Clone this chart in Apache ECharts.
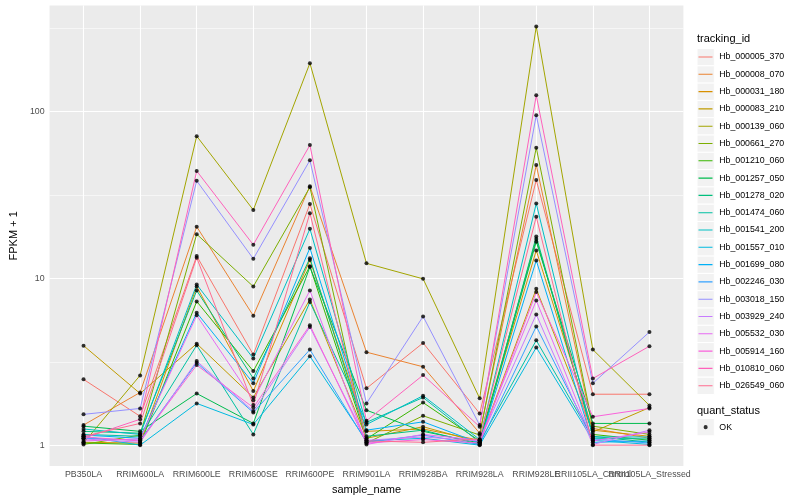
<!DOCTYPE html>
<html><head><meta charset="utf-8">
<script src="https://cdn.jsdelivr.net/npm/echarts@6.0.0/dist/echarts.min.js"></script>
<style>html,body{margin:0;padding:0;background:#fff}#c{width:800px;height:500px}</style>
</head><body><div id="c"></div>
<script>
const categories = ['PB350LA','RRIM600LA','RRIM600LE','RRIM600SE','RRIM600PE','RRIM901LA','RRIM928BA','RRIM928LA','RRIM928LE','RRII105LA_Control','RRII105LA_Stressed'];
const trackingIds = ['Hb_000005_370','Hb_000008_070','Hb_000031_180','Hb_000083_210','Hb_000139_060','Hb_000661_270','Hb_001210_060','Hb_001257_050','Hb_001278_020','Hb_001474_060','Hb_001541_200','Hb_001557_010','Hb_001699_080','Hb_002246_030','Hb_003018_150','Hb_003929_240','Hb_005532_030','Hb_005914_160','Hb_010810_060','Hb_026549_060'];
const yTicks = [1, 10, 100];
const yMinorBreaks = [3.162, 31.62, 316.2];
const quantStatus = ['OK'];

// FPKM + 1 per tracking_id, in category order
const hb_000005_370 = [2.48, 1.49, 13.6, 3.49, 27.9, 2.19, 4.10, 1.55, 38.9, 2.02, 2.02];
const hb_000008_070 = [1.32, 2.07, 20.4, 5.97, 35.7, 3.61, 2.95, 1.18, 47.8, 1.26, 1.10];
const hb_000031_180 = [1.04, 1.03, 8.93, 2.11, 12.9, 1.21, 1.25, 1.07, 14.7, 1.23, 1.13];
const hb_000083_210 = [3.95, 2.04, 4.06, 1.93, 7.47, 1.10, 1.29, 1.04, 8.65, 1.20, 1.68];
const hb_000139_060 = [1.03, 2.62, 71.2, 25.7, 195, 12.3, 9.93, 1.91, 323, 3.74, 1.73];
const hb_000661_270 = [1.01, 1.15, 18.4, 8.93, 35.2, 1.03, 1.50, 1.15, 60.7, 1.30, 1.16];
const hb_001210_060 = [1.03, 1.01, 7.27, 2.78, 11.8, 1.09, 1.80, 1.06, 17.2, 1.16, 1.07];
const hb_001257_050 = [1.30, 1.21, 2.04, 1.35, 11.7, 1.62, 1.21, 1.03, 16.6, 1.35, 1.35];
const hb_001278_020 = [1.21, 1.18, 8.46, 2.51, 13.2, 1.13, 1.23, 1.01, 17.8, 1.13, 1.04];
const hb_001474_060 = [1.16, 1.13, 3.97, 1.16, 7.21, 1.37, 1.93, 1.04, 4.25, 1.10, 1.09];
const hb_001541_200 = [1.25, 1.16, 9.18, 3.31, 19.8, 1.33, 1.98, 1.08, 28.1, 1.12, 1.12];
const hb_001557_010 = [1.13, 1.00, 1.78, 1.33, 3.41, 1.06, 1.10, 1.00, 3.85, 1.07, 1.01];
const hb_001699_080 = [1.15, 1.10, 6.22, 2.35, 15.2, 1.23, 1.38, 1.03, 12.8, 1.04, 1.06];
const hb_002246_030 = [1.10, 1.07, 3.12, 1.57, 3.74, 1.04, 1.15, 1.01, 5.15, 1.09, 1.03];
const hb_003018_150 = [1.53, 1.66, 38.4, 13.1, 51.0, 1.78, 5.91, 1.32, 95.1, 2.35, 4.77];
const hb_003929_240 = [1.09, 1.04, 3.19, 1.60, 5.11, 1.07, 1.12, 1.06, 6.08, 1.01, 1.23];
const hb_005532_030 = [1.06, 1.09, 6.00, 1.86, 8.46, 1.01, 1.16, 1.07, 7.37, 1.06, 1.20];
const hb_005914_160 = [1.12, 1.06, 3.02, 1.68, 5.23, 1.03, 1.08, 1.03, 8.27, 1.48, 1.66];
const hb_010810_060 = [1.10, 1.43, 44.0, 15.9, 62.9, 1.40, 2.63, 1.29, 125, 2.51, 3.92];
const hb_026549_060 = [1.13, 1.35, 13.3, 1.74, 24.6, 1.06, 1.04, 1.09, 23.4, 1.00, 1.00];

const seriesValues = [hb_000005_370, hb_000008_070, hb_000031_180, hb_000083_210, hb_000139_060,
  hb_000661_270, hb_001210_060, hb_001257_050, hb_001278_020, hb_001474_060, hb_001541_200,
  hb_001557_010, hb_001699_080, hb_002246_030, hb_003018_150, hb_003929_240, hb_005532_030,
  hb_005914_160, hb_010810_060, hb_026549_060];

const palette = ['#F8766D','#EA8331','#D89000','#C09B00','#A3A500','#7CAE00','#39B600','#00BB4E','#00BF7D','#00C1A3','#00BFC4','#00BAE0','#00B0F6','#35A2FF','#9590FF','#C77CFF','#E76BF3','#FA62DB','#FF62BC','#FF6C90'];

const FONT = 'Liberation Sans, Arial, Helvetica, sans-serif';
const L = Math.log10;

const lineSeries = trackingIds.map((id, k) => ({
  name: id, type: 'line', z: 2, symbol: 'none', color: palette[k],
  lineStyle: { width: 1, color: palette[k] },
  data: seriesValues[k].map((v, i) => [i, L(v)]),
  animation: false, silent: true
}));

const pointData = [];
seriesValues.forEach(arr => arr.forEach((v, i) => pointData.push([i, L(v)])));

const gridLines = [];
categories.forEach((c, i) => gridLines.push({ xAxis: i, lineStyle: { width: 1.1, color: '#ffffff', type: 'solid' } }));
yTicks.forEach(t => gridLines.push({ yAxis: L(t), lineStyle: { width: 1.1, color: '#ffffff', type: 'solid' } }));
yMinorBreaks.forEach(t => gridLines.push({ yAxis: L(t), lineStyle: { width: 0.55, color: '#ffffff', type: 'solid' } }));

const pointSeries = {
  name: quantStatus[0], type: 'scatter', z: 3, symbol: 'circle', symbolSize: 4,
  itemStyle: { color: '#000000' }, data: pointData, animation: false, silent: true,
  markLine: { z: 1, silent: true, symbol: ['none', 'none'], label: { show: false }, animation: false, data: gridLines }
};

const lineIcon = 'path://M0,0h0.01v0.01h-0.01z M1.5,7.95h14v1.1h-14z M16.99,16.99h0.01v0.01h-0.01z';
const dotIcon = 'path://M0,0h0.01v0.01h-0.01z M10.5,8.5a2,2 0 1,1 -4,0a2,2 0 1,1 4,0z M16.99,16.99h0.01v0.01h-0.01z';

const keyTop = 48.5, keyStep = 17.3, keyLeft = 697;
const graphics = [
  { type: 'text', left: keyLeft, top: 33, style: { text: 'tracking_id', font: '11px ' + FONT, fill: '#000' } },
  { type: 'text', left: keyLeft, top: 405, style: { text: 'quant_status', font: '11px ' + FONT, fill: '#000' } }
];
trackingIds.forEach((id, k) => graphics.push({ type: 'rect', z: -1,
  shape: { x: keyLeft, y: keyTop + k * keyStep, width: 17.3, height: 17.3 },
  style: { fill: '#F2F2F2', stroke: '#ffffff', lineWidth: 1 } }));
graphics.push({ type: 'rect', z: -1, shape: { x: keyLeft, y: 418.5, width: 17.3, height: 17.3 },
  style: { fill: '#F2F2F2', stroke: '#ffffff', lineWidth: 1 } });

// labels are split over two overlapping x axes so that the crowded pair both stay visible
const idx = categories.map((c, i) => i);
const labelsA = idx.filter(i => i % 2 === 0);
const labelsB = idx.filter(i => i % 2 === 1);
const xBase = {
  type: 'value', min: -0.6, max: categories.length - 1 + 0.6, position: 'bottom', offset: 0,
  axisLine: { show: false }, splitLine: { show: false },
  axisTick: { show: true, length: 3, lineStyle: { color: '#333333', width: 1 }, customValues: idx }
};
const xLabelStyle = { formatter: v => categories[Math.round(v)] || '', fontSize: 8.8, color: '#4D4D4D', margin: 4,
  hideOverlap: false, showMinLabel: true, showMaxLabel: true, fontFamily: FONT };

const chart = echarts.init(document.getElementById('c'), null, { renderer: 'canvas' });
chart.setOption({
  animation: false,
  backgroundColor: '#ffffff',
  textStyle: { fontFamily: FONT },
  grid: { left: 39.8, right: 116.6, top: 5.6, bottom: 32.7, show: true, backgroundColor: '#EBEBEB', borderWidth: 0, containLabel: false },
  xAxis: [
    Object.assign({}, xBase, {
      name: 'sample_name', nameLocation: 'middle', nameGap: 16,
      nameTextStyle: { fontSize: 11, color: '#000', fontFamily: FONT },
      axisLabel: Object.assign({ customValues: labelsA }, xLabelStyle) }),
    Object.assign({}, xBase, {
      axisTick: { show: false },
      axisLabel: Object.assign({ customValues: labelsB }, xLabelStyle) })
  ],
  yAxis: {
    type: 'value', min: L(yTicks[0]) - 0.1255, max: 2.635,
    name: 'FPKM + 1', nameLocation: 'middle', nameGap: 22, nameRotate: 90,
    nameTextStyle: { fontSize: 11, color: '#000', fontFamily: FONT },
    axisLine: { show: false }, splitLine: { show: false },
    axisTick: { show: true, length: 3, lineStyle: { color: '#333333', width: 1 }, customValues: yTicks.map(L) },
    axisLabel: { customValues: yTicks.map(L), formatter: v => String(Math.round(Math.pow(10, v))),
      fontSize: 8.8, color: '#4D4D4D', margin: 5, showMinLabel: true, showMaxLabel: true, fontFamily: FONT }
  },
  legend: [
    { type: 'plain', orient: 'vertical', left: keyLeft, top: keyTop, padding: 0,
      itemWidth: 17.3, itemHeight: 17, itemGap: 0.3, icon: lineIcon, selectedMode: false,
      textStyle: { fontSize: 8.8, color: '#000', fontFamily: FONT },
      data: trackingIds.map((id, k) => ({ name: id, itemStyle: { color: palette[k], borderWidth: 0 } })) },
    { type: 'plain', orient: 'vertical', left: keyLeft, top: 418.5, padding: 0,
      itemWidth: 17.3, itemHeight: 17.3, icon: dotIcon, selectedMode: false,
      textStyle: { fontSize: 8.8, color: '#000', fontFamily: FONT },
      data: [{ name: quantStatus[0], itemStyle: { color: '#000', borderWidth: 0 } }] }
  ],
  graphic: graphics,
  series: lineSeries.concat([pointSeries])
});
</script></body></html>
